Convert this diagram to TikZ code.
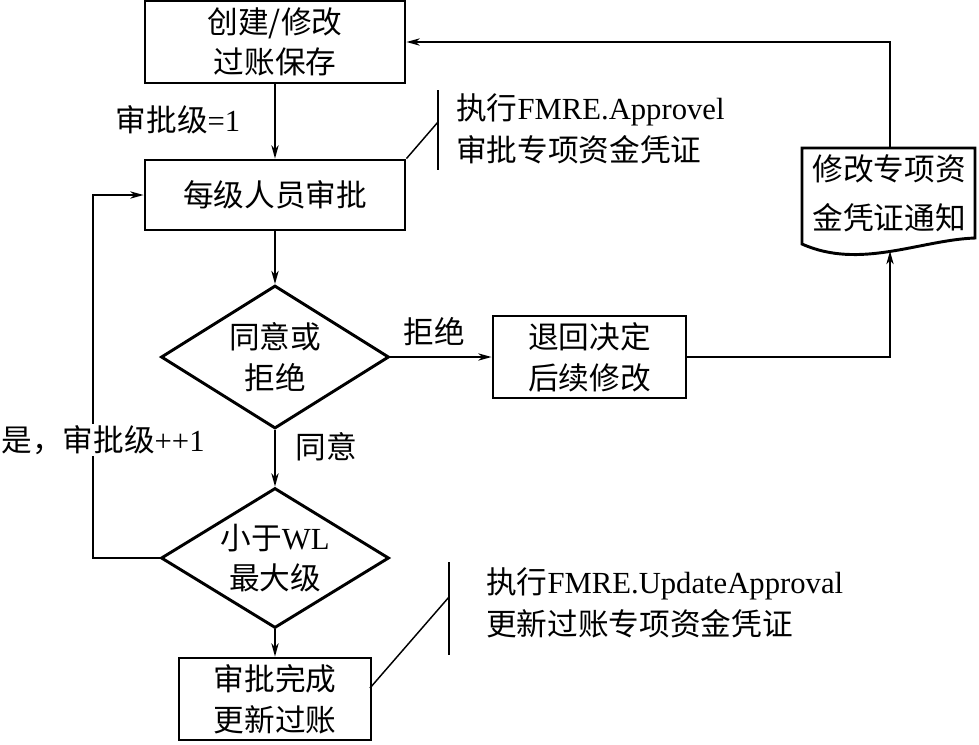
\documentclass[tikz,border=0pt]{standalone}
\usepackage{fontspec}
\setmainfont{Liberation Serif}
\newfontfamily\cjk{Noto Sans CJK SC}
\usetikzlibrary{shapes.geometric,arrows.meta}
\begin{document}
\begin{tikzpicture}[x=0.75pt,y=-0.75pt,
  every node/.style={font=\fontsize{23}{30.5}\selectfont},
  boxstyle/.style={draw,line width=2.2pt,align=center,inner sep=0pt},
  decstyle/.style={draw,diamond,aspect=1.6,line width=2.2pt,align=center,inner sep=0pt},
  conn/.style={line width=1.1pt,-{Stealth[length=10pt,width=5.5pt,inset=3pt]}},
  noteline/.style={line width=1.1pt},
  lbl/.style={inner sep=1pt},
  note/.style={align=left,anchor=west,inner sep=0pt,font=\fontsize{23}{32}\selectfont}
]
\useasboundingbox (0,0) rectangle (979,744);

% nodes
\node[boxstyle,minimum width=195pt,minimum height=61.5pt] (top) at (275,42) {\cjk 创建/修改\\\cjk 过账保存};
\node[boxstyle,minimum width=195pt,minimum height=52.5pt] (mid) at (275,195) {\cjk 每级人员审批};
\node[decstyle,minimum width=171pt,minimum height=107.25pt] (d1) at (275,357) {\cjk 同意或\\\cjk 拒绝};
\node[boxstyle,minimum width=144.75pt,minimum height=61.5pt] (ret) at (589.5,357) {\cjk 退回决定\\\cjk 后续修改};
\node[decstyle,minimum width=171pt,minimum height=105pt] (d2) at (275,558) {{\cjk 小于}WL\\\cjk 最大级};
\node[boxstyle,minimum width=144pt,minimum height=61.5pt] (fin) at (275,699) {\cjk 审批完成\\\cjk 更新过账};

% document shape
\coordinate (doctop) at (890,148);
\coordinate (docbot) at (890,251);
\draw[line width=2.2pt] (802,148) -- (975,148) -- (975,238)
  .. controls (920,240) and (860,270) .. (802,244) -- cycle;
\node[align=center,inner sep=0pt,font=\fontsize{23}{37}\selectfont] (doc) at (889,193) {\cjk 修改专项资\\\cjk 金凭证通知};

% connectors
\draw[conn] (top) -- (mid);
\draw[conn] (mid) -- (d1);
\draw[conn] (d1.east) -- (ret.west);
\draw[conn] (ret.east) -| (docbot);
\draw[conn] (doctop) |- (top.east);
\draw[conn] (d1) -- (d2);
\coordinate (lp) at (93,558);
\draw[conn] (d2.west) -- (lp) |- (mid.west);
\draw[conn] (d2) -- (fin);

% labels
\node[lbl] (l1) at (178,120) {{\cjk 审批级}=1};
\node[lbl] (l2) at (434,332) {\cjk 拒绝};
\node[lbl] (l3) at (326,447) {\cjk 同意};
\node[lbl,fill=white] (l4) at (103,440) {{\cjk 是，审批级}++1};

% annotation 1
\coordinate (a1t) at (438,90);
\coordinate (a1b) at (438,170);
\coordinate (a1m) at (438,122);
\draw[noteline] (a1t) -- (a1b);
\draw[noteline] (mid.north east) -- (a1m);
\node[note] (n1) at (456,129) {{\cjk 执行}FMRE.Approvel\\\cjk 审批专项资金凭证};

% annotation 2
\coordinate (a2t) at (449,562);
\coordinate (a2b) at (449,655);
\coordinate (a2m) at (449,597);
\coordinate (f1) at (370,688);
\draw[noteline] (a2t) -- (a2b);
\draw[noteline] (f1) -- (a2m);
\node[note] (n2) at (486,603) {{\cjk 执行}FMRE.UpdateApproval\\\cjk 更新过账专项资金凭证};
\end{tikzpicture}
\end{document}
